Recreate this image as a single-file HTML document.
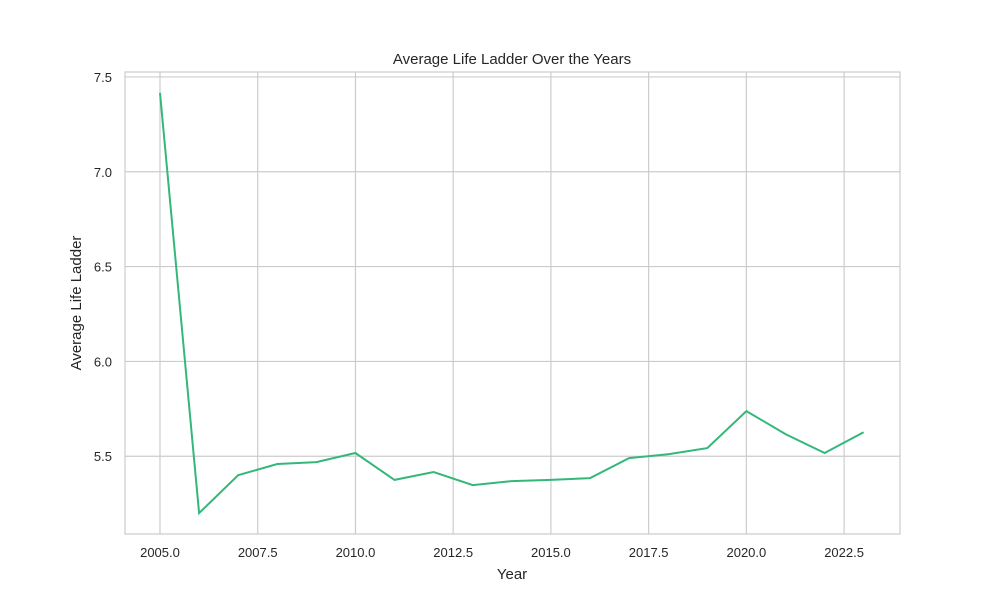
<!DOCTYPE html>
<html><head><meta charset="utf-8"><style>
body{margin:0;background:#fff;}
svg{display:block;font-family:"Liberation Sans","DejaVu Sans",sans-serif;}
</style></head><body>
<svg id="chart" width="1000" height="600">
<rect x="0" y="0" width="1000" height="600" fill="#fff"/>
<g id="grid"></g>
<rect x="125" y="72" width="775" height="462" fill="none" stroke="#cccccc" stroke-width="1.2"/>
<g id="ticks"></g>
<path id="line" fill="none" stroke="#35b779" stroke-width="2"/>
<text x="512" y="64" text-anchor="middle" font-size="15" fill="#262626">Average Life Ladder Over the Years</text>
<text x="512" y="579" text-anchor="middle" font-size="15" fill="#262626">Year</text>
<text transform="translate(81,303) rotate(-90)" text-anchor="middle" font-size="15" fill="#262626">Average Life Ladder</text>
</svg>
<script>
const years=[2005,2006,2007,2008,2009,2010,2011,2012,2013,2014,2015,2016,2017,2018,2019,2020,2021,2022,2023];
const ladder=[7.416,5.20,5.40,5.459,5.469,5.517,5.375,5.417,5.348,5.369,5.375,5.385,5.49,5.51,5.543,5.738,5.617,5.517,5.627];
const xTicks=[2005,2007.5,2010,2012.5,2015,2017.5,2020,2022.5];
const yTicks=[5.5,6.0,6.5,7.0,7.5];
const X0=125,X1=900,Y0=534,Y1=72,xmin=2004.105,xmax=2023.93,ymin=5.09,ymax=7.526;
const sx=v=>X0+(v-xmin)/(xmax-xmin)*(X1-X0);
const sy=v=>Y0-(v-ymin)/(ymax-ymin)*(Y0-Y1);
const NS="http://www.w3.org/2000/svg";
const grid=document.getElementById('grid'),ticks=document.getElementById('ticks');
xTicks.forEach(t=>{
 const l=document.createElementNS(NS,'line');
 l.setAttribute('x1',sx(t));l.setAttribute('x2',sx(t));l.setAttribute('y1',Y1);l.setAttribute('y2',Y0);
 l.setAttribute('stroke','#cccccc');l.setAttribute('stroke-width','1.2');
 
 
 grid.appendChild(l);
 const tx=document.createElementNS(NS,'text');
 tx.setAttribute('x',sx(t));tx.setAttribute('y',557);tx.setAttribute('text-anchor','middle');
 tx.setAttribute('font-size','13');tx.setAttribute('fill','#262626');
 tx.textContent=t.toFixed(1);
 
 
 ticks.appendChild(tx);
});
yTicks.forEach(t=>{
 const l=document.createElementNS(NS,'line');
 l.setAttribute('x1',X0);l.setAttribute('x2',X1);l.setAttribute('y1',sy(t));l.setAttribute('y2',sy(t));
 l.setAttribute('stroke','#cccccc');l.setAttribute('stroke-width','1.2');
 
 
 grid.appendChild(l);
 const tx=document.createElementNS(NS,'text');
 tx.setAttribute('x',112);tx.setAttribute('y',sy(t)+5);tx.setAttribute('text-anchor','end');
 tx.setAttribute('font-size','13');tx.setAttribute('fill','#262626');
 tx.textContent=t.toFixed(1);
 
 
 ticks.appendChild(tx);
});
document.getElementById('line').setAttribute('d',years.map((y,i)=>(i?'L':'M')+sx(y).toFixed(1)+','+sy(ladder[i]).toFixed(1)).join(' '));
</script>
</body></html>
